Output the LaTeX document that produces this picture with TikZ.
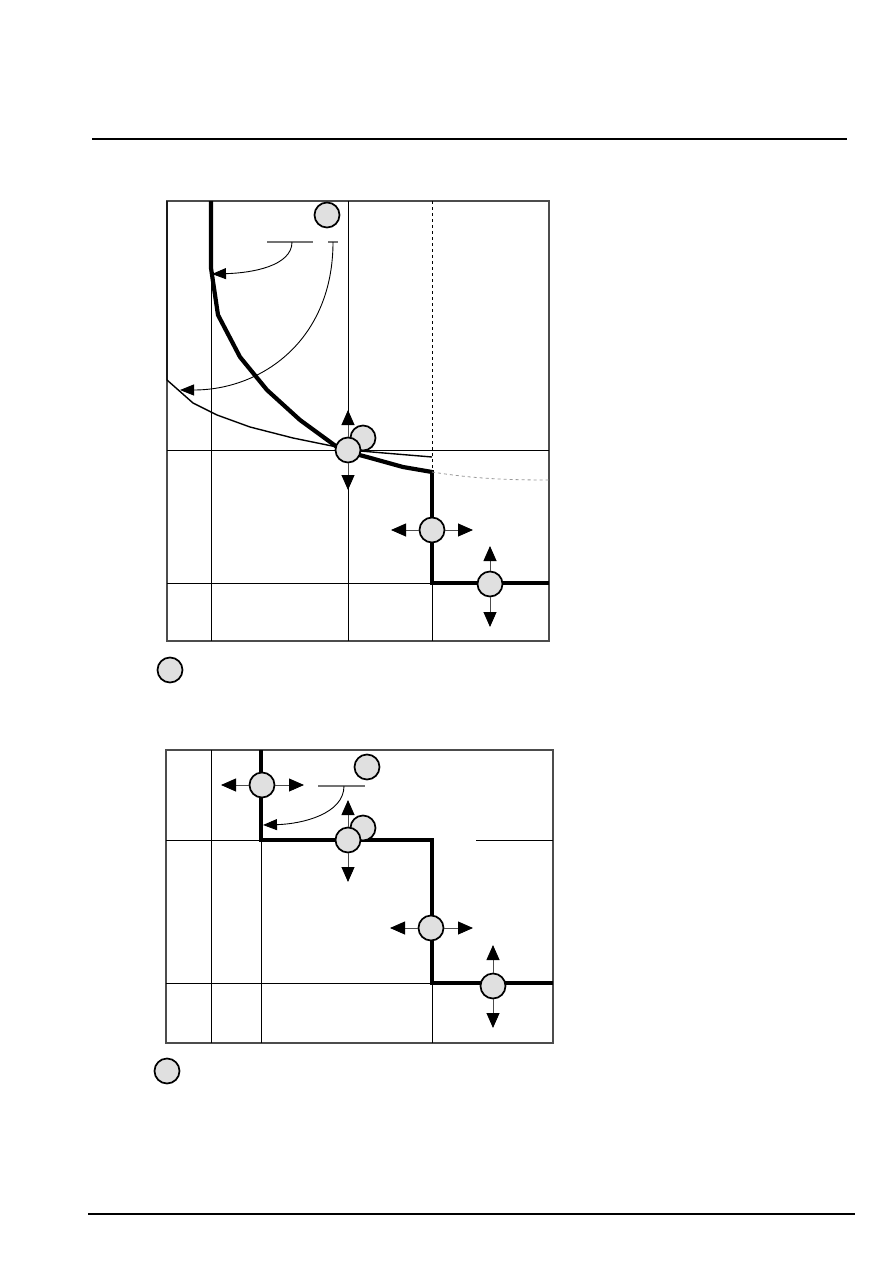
\documentclass[tikz,border=0pt]{standalone}
\usetikzlibrary{arrows.meta}
\begin{document}
\begin{tikzpicture}[x=1pt,y=-1pt,
 ball/.style={circle,draw=black,line width=1.7pt,fill=black!12,minimum size=25pt,inner sep=0pt},
 gridline/.style={line width=0.9pt},
 heavy/.style={line width=4.2pt},
 frm/.style={draw=black!70,line width=1.3pt},
 arr/.style={draw=black!70,line width=0.9pt,-{Triangle[length=15pt,width=13pt,color=black]}},
 curvarr/.style={line width=0.9pt,-{Triangle[length=14pt,width=11pt]}},
 lbl/.style={draw=black!55,line width=1.3pt},
]
\useasboundingbox (0,0) rectangle (893,1263);
% header / footer rules
\draw[line width=1.2pt] (92,139) -- (847,139);
\draw[line width=1.6pt] (88,1214) -- (855,1214);

% ---------------- top chart ----------------
\draw[frm] (167,201) rectangle (549,641);
\draw[gridline] (211,201) -- (211,641);
\draw[gridline] (348,201) -- (348,641);
\draw[gridline,dashed] (432,201) -- (432,472);
\draw[gridline] (432,583) -- (432,641);
\draw[gridline] (167,450) -- (549,450);
\draw[gridline] (167,583) -- (549,583);
% thin curve
\draw[line width=1.4pt,line join=round] (167,201) -- (167,380) -- (193,403) -- (217,415) -- (250,427) -- (293,438) -- (337,447) -- (348,450) -- (432,457);
% thick curve
\draw[heavy,line join=round] (211,201) -- (211,268) -- (218,315) -- (240,357) -- (267,390) -- (300,420) -- (337,447) -- (348,452) -- (367,457) -- (403,467) -- (432,472);
\draw[heavy,line join=miter] (432,470) -- (432,583) -- (549,583);
% gray dashed continuation
\draw[black!40,dashed,line width=0.8pt] (432,472) .. controls (470,478) and (500,480) .. (549,480);
% label strokes and curved arrows
\draw[lbl] (267,242) -- (313,242);
\draw[lbl] (328,242) -- (338,242);
\coordinate (ta1) at (212,274);
\coordinate (ta2) at (180,390);
\coordinate (ts1) at (292,242);
\coordinate (ts2) at (333,242);
\draw[curvarr] (ts1) .. controls (292,266) and (252,273) .. (ta1);
\draw[curvarr] (ts2) .. controls (333,340) and (262,390) .. (ta2);
% circles
\node[ball] (t0) at (327,215) {};
\node[ball] (tb) at (363,438) {};
\node[ball] (t1) at (348,450) {};
\node[ball] (t2) at (432,530) {};
\node[ball] (t3) at (490,584) {};
\node[ball] (tl) at (170,670) {};
\coordinate (t1u) at (348,410);
\coordinate (t1d) at (348,490);
\coordinate (t2l) at (391,530);
\coordinate (t2r) at (473,530);
\coordinate (t3u) at (490,546);
\coordinate (t3d) at (490,627);
\draw[arr] (t1.north) -- (t1u);
\draw[arr] (t1.south) -- (t1d);
\draw[arr] (t2.west) -- (t2l);
\draw[arr] (t2.east) -- (t2r);
\draw[arr] (t3.north) -- (t3u);
\draw[arr] (t3.south) -- (t3d);

% ---------------- bottom chart ----------------
\draw[frm] (166,750) rectangle (553,1043);
\draw[gridline] (211,750) -- (211,1043);
\draw[gridline] (261,840) -- (261,1043);
\draw[gridline] (432,983) -- (432,1043);
\draw[gridline] (166,840) -- (432,840);
\draw[gridline] (476,840) -- (553,840);
\draw[gridline] (166,983) -- (553,983);
\draw[heavy,line join=miter] (261,750) -- (261,840) -- (432,840) -- (432,983) -- (553,983);
\draw[lbl] (318,786) -- (365,786);
\coordinate (bs1) at (344,786);
\coordinate (ba1) at (263,825);
\draw[curvarr] (bs1) .. controls (344,814) and (302,824) .. (ba1);
\node[ball] (b0) at (367,767) {};
\node[ball] (bb) at (363,828) {};
\node[ball] (b1) at (348,840) {};
\node[ball] (b4) at (262,785) {};
\node[ball] (b2) at (431,928) {};
\node[ball] (b3) at (493,986) {};
\node[ball] (bl) at (167,1071) {};
\coordinate (b4l) at (221,785);
\coordinate (b4r) at (304,785);
\coordinate (b1u) at (348,800);
\coordinate (b1d) at (348,882);
\coordinate (b2l) at (390,928);
\coordinate (b2r) at (473,928);
\coordinate (b3u) at (493,945);
\coordinate (b3d) at (493,1028);
\draw[arr] (b4.west) -- (b4l);
\draw[arr] (b4.east) -- (b4r);
\draw[arr] (b1.north) -- (b1u);
\draw[arr] (b1.south) -- (b1d);
\draw[arr] (b2.west) -- (b2l);
\draw[arr] (b2.east) -- (b2r);
\draw[arr] (b3.north) -- (b3u);
\draw[arr] (b3.south) -- (b3d);
\end{tikzpicture}
\end{document}
